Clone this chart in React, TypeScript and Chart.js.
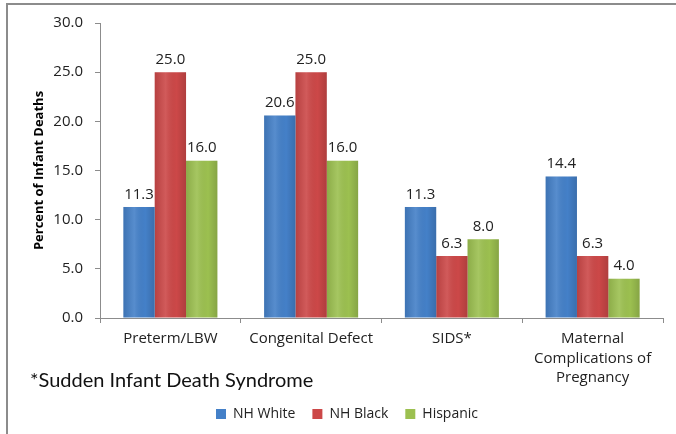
import React, { useEffect, useRef } from "react";
import { Chart, registerables } from "chart.js";

Chart.register(...registerables);

const categories: (string | string[])[] = [
  "Preterm/LBW",
  "Congenital Defect",
  "SIDS*",
  ["Maternal", "Complications of", "Pregnancy"],
];
const seriesNames = ["NH White", "NH Black", "Hispanic"];
const nhWhite = [11.3, 20.6, 11.3, 14.4];
const nhBlack = [25.0, 25.0, 6.3, 6.3];
const hispanic = [16.0, 16.0, 8.0, 4.0];
const seriesColors = ["#4480C8", "#CC4848", "#9CC050"];
const yMin = 0;
const yMax = 30;
const yStep = 5;
const yTitle = "Percent of Infant Deaths";
const footnote = "*Sudden Infant Death Syndrome";

const FONT = "'Open Sans', sans-serif";

const shadePlugin = {
  id: "shade",
  afterDatasetsDraw(chart: any) {
    const ctx = chart.ctx;
    ctx.save();
    chart.data.datasets.forEach((ds: any, di: number) => {
      const meta = chart.getDatasetMeta(di);
      meta.data.forEach((bar: any) => {
        const left = bar.x - bar.width / 2;
        const g = ctx.createLinearGradient(left, 0, left + bar.width, 0);
        g.addColorStop(0, "rgba(0,0,0,0.10)");
        g.addColorStop(0.35, "rgba(255,255,255,0.10)");
        g.addColorStop(0.7, "rgba(0,0,0,0.0)");
        g.addColorStop(1, "rgba(0,0,0,0.14)");
        ctx.fillStyle = g;
        ctx.fillRect(left, bar.y, bar.width, bar.base - bar.y);
      });
    });
    ctx.restore();
  },
};

const labelPlugin = {
  id: "valueLabels",
  afterDatasetsDraw(chart: any) {
    const ctx = chart.ctx;
    ctx.save();
    ctx.font = `15px ${FONT}`;
    ctx.fillStyle = "#222";
    ctx.textAlign = "center";
    ctx.textBaseline = "bottom";
    chart.data.datasets.forEach((ds: any, di: number) => {
      const meta = chart.getDatasetMeta(di);
      meta.data.forEach((bar: any, i: number) => {
        ctx.fillText(Number(ds.data[i]).toFixed(1), bar.x, bar.y - 5);
      });
    });
    ctx.restore();
  },
};

export default function App() {
  const ref = useRef<HTMLCanvasElement | null>(null);

  useEffect(() => {
    document.body.style.margin = "0";
    const canvas = ref.current;
    if (!canvas) return;
    const values = [nhWhite, nhBlack, hispanic];
    const chart = new Chart(canvas, {
      type: "bar",
      data: {
        labels: categories,
        datasets: seriesNames.map((name, i) => ({
          label: name,
          data: values[i],
          backgroundColor: seriesColors[i],
          borderWidth: 0,
          categoryPercentage: 0.668,
          barPercentage: 1,
        })),
      },
      options: {
        responsive: false,
        animation: false,
        devicePixelRatio: 1,
        layout: { padding: { left: 31, right: 13, top: 23, bottom: 0 } },
        plugins: {
          legend: {
            position: "bottom",
            labels: {
              boxWidth: 10,
              boxHeight: 10,
              padding: 17,
              color: "#222",
              font: { family: FONT, size: 14 },
            },
          },
          tooltip: { enabled: false },
        },
        scales: {
          x: {
            grid: {
              drawOnChartArea: false,
              drawTicks: true,
              tickLength: 5,
              color: "#8c8c8c",
            },
            border: { color: "#8c8c8c" },
            ticks: {
              color: "#222",
              padding: 6,
              maxRotation: 0,
              autoSkip: false,
              font: { family: FONT, size: 15, lineHeight: 1.3 },
            },
            afterFit(scale: any) {
              scale.height = 72;
            },
          },
          y: {
            min: yMin,
            max: yMax,
            grid: {
              drawOnChartArea: false,
              drawTicks: true,
              tickLength: 5,
              color: "#8c8c8c",
            },
            border: { color: "#8c8c8c" },
            ticks: {
              stepSize: yStep,
              color: "#222",
              padding: 12,
              font: { family: FONT, size: 15 },
              callback: (v: any) => Number(v).toFixed(1),
            },
            title: {
              display: true,
              text: yTitle,
              color: "#000",
              padding: { top: 0, bottom: 0 },
              font: { family: FONT, size: 13, weight: "bold" },
            },
            afterFit(scale: any) {
              scale.width = 69;
            },
          },
        },
      },
      plugins: [shadePlugin, labelPlugin],
    });
    return () => chart.destroy();
  }, []);

  return (
    <div style={{ position: "fixed", left: 0, top: 0, width: 676, height: 434, background: "#fff", overflow: "hidden" }}>
      <canvas ref={ref} width={676} height={431} style={{ position: "absolute", left: 0, top: 0 }} />
      <div
        style={{
          position: "absolute",
          left: 6,
          top: 3,
          width: 680,
          height: 440,
          borderTop: "2px solid #8c8c8c",
          borderLeft: "2px solid #8c8c8c",
          pointerEvents: "none",
        }}
      />
      <div
        style={{
          position: "absolute",
          left: 30,
          top: 366,
          fontFamily: "Lato, sans-serif",
          fontSize: 20,
          color: "#111",
          whiteSpace: "nowrap",
          lineHeight: "26px",
        }}
      >
        {footnote}
      </div>
    </div>
  );
}
